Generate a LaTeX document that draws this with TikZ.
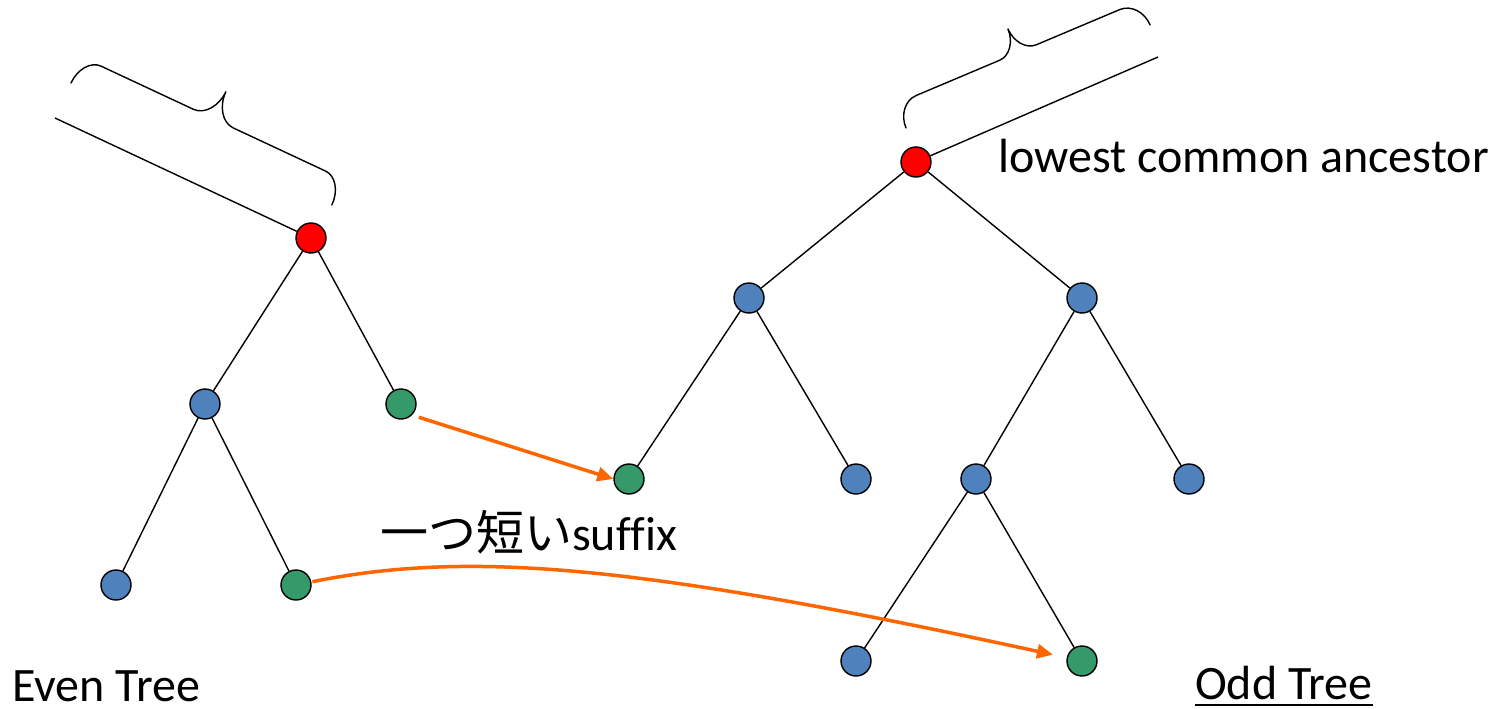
\documentclass[tikz,border=0pt]{standalone}
\usepackage{fontspec}
\setmainfont{Carlito}[Ligatures=NoCommon]
\newfontfamily\cjk{Noto Sans CJK JP}
\usetikzlibrary{arrows.meta}
\definecolor{nodered}{RGB}{255,0,0}
\definecolor{nodeblue}{RGB}{79,129,189}
\definecolor{nodegreen}{RGB}{54,153,106}
\definecolor{linkorange}{RGB}{255,102,0}

% curly brace in a local frame: #1 length, #2 tip height, #3 body height,
% #4 end curl width, #5 half width of the tip curve
\newcommand\curlybrace[5]{%
  \draw[bracket] (0,0) .. controls (0,{0.55*#3}) and ({0.45*#4},#3) .. (#4,#3)
    -- ({#1/2-#5},#3) .. controls ({#1/2-0.45*#5},#3) and ({#1/2},{#3+0.45*(#2-#3)}) .. ({#1/2},#2)
    .. controls ({#1/2},{#3+0.45*(#2-#3)}) and ({#1/2+0.45*#5},#3) .. ({#1/2+#5},#3)
    -- ({#1-#4},#3) .. controls ({#1-0.45*#4},#3) and (#1,{0.55*#3}) .. (#1,0);}

\begin{document}
\begin{tikzpicture}[x=1pt,y=-1pt,
  vertex/.style={circle,draw=black,line width=1.4pt,minimum size=30pt,inner sep=0pt},
  redv/.style={vertex,fill=nodered},
  bluev/.style={vertex,fill=nodeblue},
  greenv/.style={vertex,fill=nodegreen},
  treeedge/.style={line width=1.4pt},
  bracket/.style={line width=1.4pt,line cap=round},
  jump/.style={draw=linkorange,line width=3.5pt,-{Triangle[length=16pt,width=14pt]}},
  caption/.style={font=\fontsize{48}{52}\selectfont,inner sep=0pt,text depth=0pt,anchor=base west}]

\useasboundingbox (0,0) rectangle (1502,709);

% even tree
\node[redv]   (lr)  at (311,238) {};
\node[bluev]  (lb1) at (205,404) {};
\node[greenv] (lg1) at (401,404) {};
\node[bluev]  (lb2) at (116,585) {};
\node[greenv] (lg2) at (296,585) {};

% odd tree
\node[redv]   (rr)  at (916,162) {};
\node[bluev]  (rb1) at (749,298) {};
\node[bluev]  (rb2) at (1082,298) {};
\node[greenv] (rg1) at (629,479) {};
\node[bluev]  (rb3) at (856,479) {};
\node[bluev]  (rb4) at (976,479) {};
\node[bluev]  (rb5) at (1189,479) {};
\node[bluev]  (rb6) at (856,661) {};
\node[greenv] (rg2) at (1082,661) {};

% stems towards the rest of each tree
\coordinate (lstem) at (55,118);
\coordinate (rstem) at (1158,57);

\begin{scope}[treeedge]
  \draw (lr) -- (lstem);
  \draw (lr) -- (lb1);
  \draw (lr) -- (lg1);
  \draw (lb1) -- (lb2);
  \draw (lb1) -- (lg2);
  \draw (rr) -- (rstem);
  \draw (rr) -- (rb1);
  \draw (rr) -- (rb2);
  \draw (rb1) -- (rg1);
  \draw (rb1) -- (rb3);
  \draw (rb2) -- (rb4);
  \draw (rb2) -- (rb5);
  \draw (rb4) -- (rb6);
  \draw (rb4) -- (rg2);
\end{scope}

% braces over the stems
\begin{scope}[shift={(71,83)},x={(0.9059pt,-0.4234pt)},y={(0.4234pt,0.9059pt)}]
  \curlybrace{288}{58}{28}{20}{22}
\end{scope}
\begin{scope}[shift={(906,128)},x={(0.9211pt,0.3888pt)},y={(-0.3888pt,0.9211pt)}]
  \curlybrace{265}{52}{26}{22}{20}
\end{scope}

% suffix links
\draw[jump,shorten <=7pt] (lg1.south east) -- (rg1.west);
\coordinate (c1) at (470,550);
\coordinate (c2) at (640,565);
\draw[jump,shorten <=1pt,shorten >=14pt] (lg2) .. controls (c1) and (c2) .. (rg2);

% texts
\node[caption] (lca)  at (998,172) {lowest common ancestor};
\node[caption] (suf)  at (380,550) {{\cjk 一つ短い}suffix};
\node[caption] (even) at (12,701) {Even Tree};
\node[caption] (odd)  at (1195,699) {Odd Tree};
\draw[line width=2.5pt] ([yshift=-6pt]odd.base west) -- ([yshift=-6pt]odd.base east);
\end{tikzpicture}
\end{document}
